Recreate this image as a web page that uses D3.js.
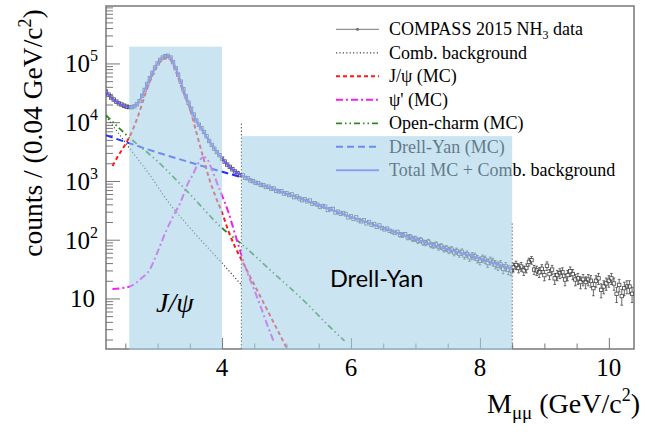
<!DOCTYPE html>
<html>
<head>
<meta charset="utf-8">
<script src="https://cdn.jsdelivr.net/npm/d3@7"></script>
<style>
  body { margin: 0; background: #fff; }
  svg { display: block; font-family: "Liberation Serif", "Times New Roman", serif; }
</style>
</head>
<body>
<div id="container"></div>
<script>
const WIDTH = 645;
const HEIGHT = 432;
const LEFT = 106, RIGHT = 634, TOP = 6, BOTTOM = 349;

// histogram: 0.04 GeV bins starting at 2.20 GeV
const binStart = 2.2;
const binWidth = 0.04;
const dataCounts = [
  33100, 29500, 26300, 24300, 22400, 20900, 20000, 19100, 18400, 18100,
  18000, 18600, 20200, 22900, 28200, 35500, 44700, 56200, 69200, 85100,
  100000, 115000, 126000, 133000, 135000, 126000, 105000, 83200, 64600, 49000,
  36300, 27500, 21400, 17000, 13500, 10700, 9100, 7900, 6800, 5750,
  4800, 4100, 3550, 3100, 2750, 2400, 2140, 1900, 1740, 1580,
  1450, 1350, 1260,
  1250, 1130, 1110, 1020, 990, 930, 920, 860, 850, 790,
  800, 740, 745, 680, 665, 670, 610, 620, 575, 590,
  530, 545, 505, 470, 490, 450, 465, 410, 420, 395,
  360, 375, 365, 320, 330, 335, 290, 300, 275, 285,
  270, 240, 250, 225, 240, 215, 205, 215, 190, 200,
  180, 185, 165, 175, 158, 150, 155, 142, 137, 130,
  136, 122, 120, 124, 110, 112, 103, 104, 96, 99,
  90, 88, 92, 82, 80, 83, 75, 77, 70, 71,
  66, 68, 61, 64, 58, 62, 54, 57, 50, 53,
  52, 47, 44, 48, 46, 40, 44, 42, 38, 36,
  38, 32, 35, 31, 30,
  34, 37, 33, 35, 30, 33, 42, 45, 31, 30,
  28, 32, 25, 36, 26, 31, 22, 25, 27, 28,
  21, 25, 29, 26, 21, 22, 19, 21, 19, 21,
  20, 15, 20, 22, 14, 16, 18, 20, 22, 18,
  12, 17, 11, 15, 16, 16, 12,
];

// fitted components (mass in GeV, counts per bin)
const totalX = [2.2, 2.3, 2.4, 2.5, 2.6, 2.7, 2.8, 2.9, 3.0, 3.1, 3.16, 3.2, 3.3, 3.4, 3.5, 3.6, 3.7, 3.8, 3.9, 4.0, 4.1, 4.2, 4.3, 4.5, 4.7, 4.9, 5.2, 5.5, 6.0, 6.5, 7.0, 7.5, 8.0, 8.5];
const totalY = [33100, 25100, 20900, 18600, 18000, 21400, 35500, 63100, 100000, 131800, 135000, 126000, 74100, 36300, 19100, 10700, 7240, 4790, 3310, 2400, 1820, 1450, 1260, 955, 794, 661, 513, 385, 245, 158, 102, 69, 48, 31.6];

const jpsiX = [2.3, 2.4, 2.5, 2.6, 2.7, 2.8, 2.9, 3.0, 3.1, 3.16, 3.2, 3.3, 3.4, 3.5, 3.6, 3.7, 3.8, 3.9, 4.0, 4.1, 4.2, 4.3, 4.4, 4.6, 4.8, 5.0];
const jpsiY = [1800, 2800, 4200, 6800, 13000, 28000, 56000, 92000, 120000, 123000, 115000, 66000, 32000, 17000, 6800, 2700, 1100, 540, 290, 140, 76, 46, 28, 10.5, 3.9, 1.45];

const psi2X = [2.3, 2.45, 2.6, 2.75, 2.88, 3.0, 3.14, 3.25, 3.35, 3.47, 3.55, 3.62, 3.7, 3.75, 3.82, 3.89, 3.96, 4.02, 4.1, 4.18, 4.28, 4.38, 4.5, 4.6, 4.7, 4.81];
const psi2Y = [14.5, 15, 16.5, 22, 31, 62, 147, 260, 420, 900, 1300, 1900, 2500, 2500, 1800, 1150, 720, 500, 290, 150, 65, 30, 14, 7.2, 3.6, 1.75];

const charmX = [2.2, 2.5, 3.0, 3.5, 4.0, 4.3, 4.8, 5.3, 5.67, 5.9];
const charmY = [13200, 6300, 2150, 600, 158, 85, 27, 8.5, 3.3, 1.9];

const combX = [2.2, 2.5, 2.93, 3.14, 3.5, 4.0, 4.3];
const combY = [12600, 4500, 1050, 480, 160, 40, 17];

const dyX = [2.2, 2.73, 3.55, 4.3];
const dyY = [6000, 3800, 2000, 1160];

// shaded selections: [from, to, top]
const jpsiRegion = [2.56, 4.0, 1.93e5];
const dyRegion = [4.3, 8.5, 5.8e3];
const cutLines = [[4.3, 9500], [8.5, 190]];

const xMajor = [4, 6, 8, 10];
const xMinor = [2.5, 3, 3.5, 4.5, 5, 5.5, 6.5, 7, 7.5, 8.5, 9, 9.5, 10.5];
const yMajor = [10, 100, 1000, 10000, 100000];

const legendLabels = ["COMPASS 2015 NH", "Comb. background", "J/\u03c8 (MC)", "\u03c8' (MC)", "Open-charm (MC)", "Drell-Yan (MC)", "Total MC + Comb. background"];

const svg = d3.select("#container").append("svg")
  .attr("width", WIDTH)
  .attr("height", HEIGHT);

const x = d3.scaleLinear().domain([2.2, 10.39]).range([LEFT, RIGHT]);
const y = d3.scaleLog().domain([1.38, 9.5e5]).range([BOTTOM, TOP]);

const styles = {
  data: { color: "#555", dash: null, width: 1 },
  comb: { color: "#444", dash: "1.2,2.2", width: 1.2 },
  jpsi: { color: "#ff1a1a", dash: "4,3", width: 2 },
  psi2: { color: "#ee22ee", dash: "7,3,2,3", width: 2 },
  charm: { color: "#2e8b22", dash: "6,3,1.5,3,1.5,3", width: 1.8 },
  dy: { color: "#1f2fff", dash: "7,4", width: 2 },
  total: { color: "#6c5cf0", dash: null, width: 2 },
};
const legendKeys = ["data", "comb", "jpsi", "psi2", "charm", "dy", "total"];

// legend (drawn first, the shaded band covers part of it)
const legend = svg.append("g");
legendKeys.forEach((k, i) => {
  const cy = 29.3 + i * 23.5;
  const s = styles[k];
  legend.append("line")
    .attr("x1", 336).attr("x2", 379).attr("y1", cy).attr("y2", cy)
    .attr("stroke", k === "data" ? "#777" : s.color)
    .attr("stroke-width", k === "data" ? 1 : s.width)
    .attr("stroke-dasharray", s.dash);
  if (k === "data") {
    legend.append("circle").attr("cx", 357.5).attr("cy", cy).attr("r", 1.6).attr("fill", "#777");
  }
  const t = legend.append("text")
    .attr("x", 389).attr("y", cy + 6)
    .style("font-size", "18px")
    .text(legendLabels[i]);
  if (k === "data") {
    t.append("tspan").attr("dy", 4).style("font-size", "12px").text("3");
    t.append("tspan").attr("dy", -4).text(" data");
  }
});

// axes, ticks inside the frame
const xAxisMajor = d3.axisBottom(x).tickValues(xMajor).tickSize(-11).tickFormat("");
const xAxisMinor = d3.axisBottom(x).tickValues(xMinor.filter((v) => v < 10.39)).tickSize(-5.5).tickFormat("");

const yMinor = [];
for (let e = 0; e <= 5; e++) {
  for (let k = 2; k <= 9; k++) {
    const v = k * Math.pow(10, e);
    if (v > 1.38 && v < 9.5e5) yMinor.push(v);
  }
}
const yAxisMajor = d3.axisLeft(y).tickValues(yMajor).tickSize(-14).tickFormat("");
const yAxisMinor = d3.axisLeft(y).tickValues(yMinor).tickSize(-7).tickFormat("");

[xAxisMajor, xAxisMinor].forEach((a) => {
  svg.append("g").attr("transform", `translate(0,${BOTTOM})`).call(a)
    .call((g) => g.select(".domain").remove())
    .call((g) => g.selectAll("line").attr("stroke", "#777"));
});
[yAxisMajor, yAxisMinor].forEach((a) => {
  svg.append("g").attr("transform", `translate(${LEFT},0)`).call(a)
    .call((g) => g.select(".domain").remove())
    .call((g) => g.selectAll("line").attr("stroke", "#777"));
});

svg.append("rect")
  .attr("x", LEFT).attr("y", TOP)
  .attr("width", RIGHT - LEFT).attr("height", BOTTOM - TOP)
  .attr("fill", "none").attr("stroke", "#777").attr("stroke-width", 1.5);

svg.append("clipPath").attr("id", "plot-clip")
  .append("rect").attr("x", LEFT).attr("y", TOP)
  .attr("width", RIGHT - LEFT).attr("height", BOTTOM - TOP);

const plot = svg.append("g").attr("clip-path", "url(#plot-clip)");

// data points with poisson error bars
const points = dataCounts.map((c, i) => ({ m: binStart + i * binWidth, c }));
const pts = plot.append("g").attr("stroke", "#444").attr("fill", "none").attr("stroke-width", 0.8);
points.forEach((p) => {
  const px = x(p.m);
  const err = Math.sqrt(p.c);
  const py = y(p.c);
  const y0 = y(p.c + err), y1 = y(Math.max(p.c - err, 1.4));
  if (py - y0 > 2.2) {
    pts.append("line").attr("x1", px).attr("x2", px).attr("y1", y0).attr("y2", py - 1.7);
    pts.append("line").attr("x1", px).attr("x2", px).attr("y1", py + 1.7).attr("y2", y1);
    pts.append("line").attr("x1", px - 1.3).attr("x2", px + 1.3).attr("y1", y0).attr("y2", y0);
    pts.append("line").attr("x1", px - 1.3).attr("x2", px + 1.3).attr("y1", y1).attr("y2", y1);
  }
  pts.append("rect").attr("x", px - 1.7).attr("y", py - 1.7).attr("width", 3.4).attr("height", 3.4);
});

// fitted curves
const line = d3.line()
  .x((d) => x(d[0]))
  .y((d) => y(d[1]))
  .curve(d3.curveMonotoneX);

function drawCurve(xs, ys, key) {
  const s = styles[key];
  plot.append("path")
    .datum(xs.map((v, i) => [v, ys[i]]))
    .attr("d", line)
    .attr("fill", "none")
    .attr("stroke", s.color)
    .attr("stroke-width", s.width)
    .attr("stroke-dasharray", s.dash);
}
drawCurve(combX, combY, "comb");
drawCurve(charmX, charmY, "charm");
drawCurve(dyX, dyY, "dy");
drawCurve(psi2X, psi2Y, "psi2");
drawCurve(jpsiX, jpsiY, "jpsi");
drawCurve(totalX, totalY, "total");

// mass cuts
cutLines.forEach(([m, top]) => {
  svg.append("line")
    .attr("x1", x(m)).attr("x2", x(m))
    .attr("y1", y(top)).attr("y2", BOTTOM)
    .attr("stroke", "#555").attr("stroke-width", 1)
    .attr("stroke-dasharray", "1.5,2");
});

// shaded selections on top
[jpsiRegion, dyRegion].forEach(([a, b, top]) => {
  svg.append("rect")
    .attr("x", x(a)).attr("y", y(top))
    .attr("width", x(b) - x(a)).attr("height", BOTTOM + 1 - y(top))
    .attr("fill", "rgb(165,208,232)").attr("fill-opacity", 0.58);
});

svg.append("text")
  .attr("x", 156).attr("y", 312)
  .style("font-size", "28px").style("font-style", "italic")
  .text("J/\u03c8");

svg.append("text")
  .attr("x", 330).attr("y", 287)
  .style("font-family", "Lato, 'Noto Sans', sans-serif")
  .style("font-size", "23.5px")
  .text("Drell-Yan");

// tick labels
xMajor.forEach((v) => {
  svg.append("text")
    .attr("x", x(v)).attr("y", 376)
    .attr("text-anchor", "middle")
    .style("font-size", "25px")
    .text(v);
});
yMajor.forEach((v) => {
  const e = Math.round(Math.log10(v));
  const t = svg.append("text")
    .attr("x", e === 1 ? 95 : 98).attr("y", y(v) + 9)
    .attr("text-anchor", "end")
    .style("font-size", "25px")
    .text("10");
  if (e > 1) {
    t.append("tspan").attr("dy", -11).style("font-size", "16px").text(e);
  }
});

// axis titles
const yTitle = svg.append("text")
  .attr("transform", "translate(42,133) rotate(-90)")
  .attr("text-anchor", "middle")
  .style("font-size", "27.5px")
  .text("counts / (0.04 GeV/c");
yTitle.append("tspan").attr("dy", -11).style("font-size", "18px").text("2");
yTitle.append("tspan").attr("dy", 11).text(")");

const xTitle = svg.append("text")
  .attr("x", 640).attr("y", 413)
  .attr("text-anchor", "end")
  .style("font-size", "28px")
  .text("M");
xTitle.append("tspan").attr("dy", 6).style("font-size", "19px").text("\u03bc\u03bc");
xTitle.append("tspan").attr("dy", -6).text(" (GeV/c");
xTitle.append("tspan").attr("dy", -12).style("font-size", "18px").text("2");
xTitle.append("tspan").attr("dy", 12).text(")");
</script>
</body>
</html>
